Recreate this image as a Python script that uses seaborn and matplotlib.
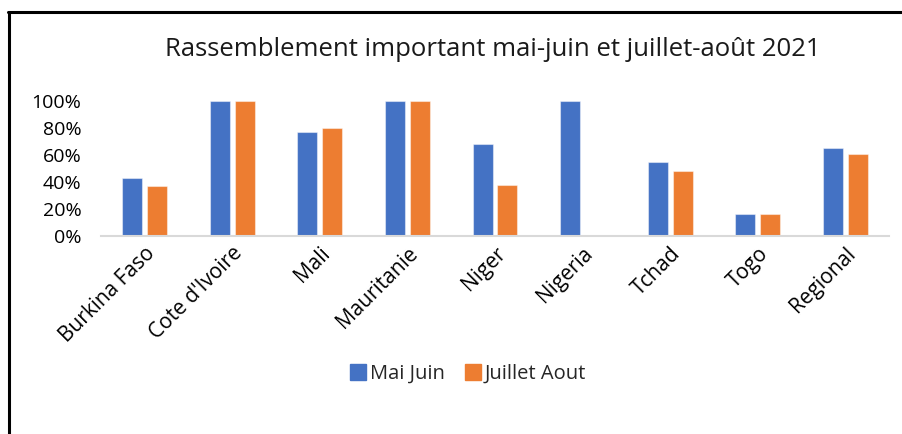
import matplotlib
matplotlib.use("Agg")
import matplotlib.pyplot as plt
import seaborn as sns
import pandas as pd
from matplotlib.lines import Line2D
from matplotlib.ticker import PercentFormatter

categories = ["Burkina Faso", "Cote d'Ivoire", "Mali", "Mauritanie", "Niger",
              "Nigeria", "Tchad", "Togo", "Regional"]
mai_juin = [0.43, 1.00, 0.77, 1.00, 0.68, 1.00, 0.55, 0.16, 0.65]
juillet_aout = [0.37, 1.00, 0.80, 1.00, 0.38, 0.00, 0.48, 0.16, 0.61]
series_names = ["Mai Juin", "Juillet Aout"]
title = "Rassemblement important mai-juin et juillet-août 2021"
yticks = [0, 0.2, 0.4, 0.6, 0.8, 1.0]

df = pd.DataFrame({
    "Pays": categories * 2,
    "Valeur": mai_juin + juillet_aout,
    "Période": [series_names[0]] * len(categories) + [series_names[1]] * len(categories),
})

sns.set_style("white")
plt.rcParams["font.family"] = ["Open Sans", "DejaVu Sans"]

colors = {"Mai Juin": "#4472C4", "Juillet Aout": "#ED7D31"}

fig = plt.figure(figsize=(9.03, 4.34), dpi=100)
ax = fig.add_axes([101 / 903, 1 - 236 / 434, (889 - 101) / 903, (236 - 101) / 434])

sns.barplot(data=df, x="Pays", y="Valeur", hue="Période", palette=colors,
            width=0.57, gap=0.2, ax=ax, legend=False, saturation=1)

for p in ax.patches:
    p.set_edgecolor((1, 1, 1, 0.45))
    p.set_linewidth(0.8)

ax.set_ylim(0, 1.0)
ax.set_xlim(-0.5, len(categories) - 0.5)
ax.set_yticks(yticks)
ax.yaxis.set_major_formatter(PercentFormatter(1.0, decimals=0))
ax.set_xlabel("")
ax.set_ylabel("")
for s in ["top", "right", "left"]:
    ax.spines[s].set_visible(False)
ax.spines["bottom"].set_color("#d9d9d9")
ax.spines["bottom"].set_linewidth(1.5)
ax.tick_params(axis="y", length=0, labelsize=14, pad=14, colors="black")
ax.tick_params(axis="x", length=0, labelsize=15, pad=5, colors="black")
plt.setp(ax.get_xticklabels(), rotation=45, ha="right", va="top", rotation_mode="anchor")

fig.text(493 / 903, 1 - 50 / 434, title, ha="center", va="center", fontsize=18.5, color="#1a1a1a")

handles = [Line2D([], [], marker="s", linestyle="none", markersize=11,
                  markerfacecolor=colors[n], markeredgecolor=colors[n]) for n in series_names]
fig.legend(handles, series_names, loc="center", bbox_to_anchor=(468 / 903, 1 - 374 / 434),
           ncol=2, frameon=False, fontsize=14.5, handletextpad=0.2, columnspacing=1.0,
           handlelength=0.8)

# outer border (left and top visible)
fig.add_artist(Line2D([9 / 903, 9 / 903], [0, 1 - 12 / 434], color="black", lw=2.2,
                      transform=fig.transFigure))
fig.add_artist(Line2D([8 / 903, 1], [1 - 12 / 434, 1 - 12 / 434], color="black", lw=2.2,
                      transform=fig.transFigure))

fig.savefig("out.png", dpi=100, facecolor="white")
